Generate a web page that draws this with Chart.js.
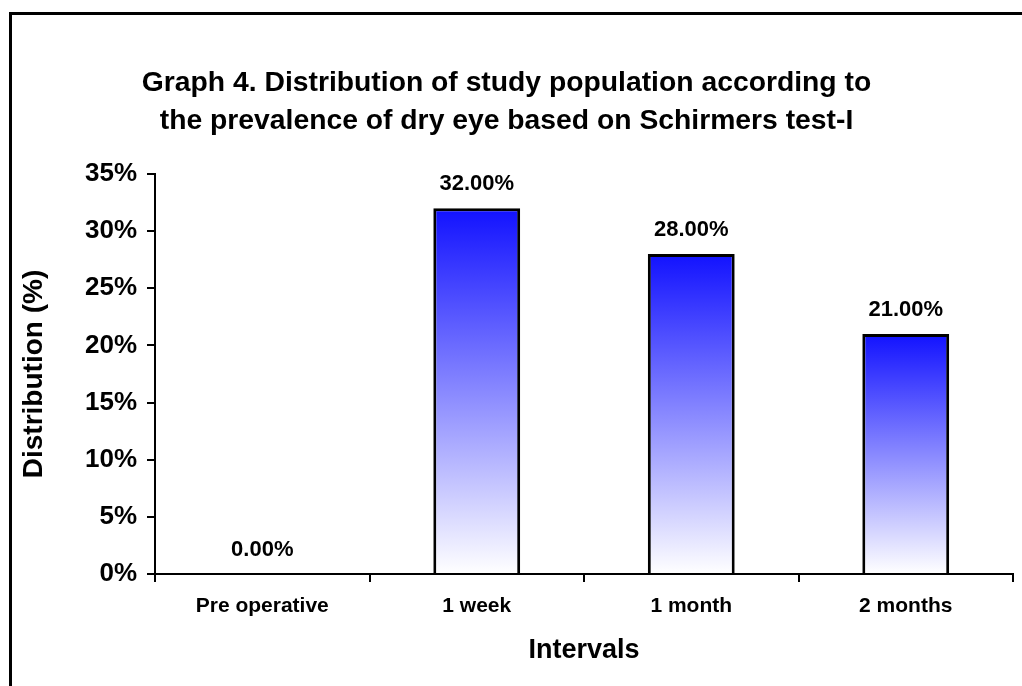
<!DOCTYPE html>
<html>
<head>
<meta charset="utf-8">
<script src="https://cdn.jsdelivr.net/npm/chart.js@4.4.1/dist/chart.umd.min.js"></script>
<style>
  html, body { margin: 0; padding: 0; background: #fff; overflow: hidden; }
  #wrap { position: relative; width: 1022px; height: 686px; }
  #frame { position: absolute; left: 9px; top: 12px; width: 2000px; height: 2000px; border: 3px solid #000; box-sizing: border-box; pointer-events: none; }
  canvas { position: absolute; left: 0; top: 0; }
</style>
</head>
<body>
<div id="wrap">
  <canvas id="c" width="1022" height="686"></canvas>
  <div id="frame"></div>
</div>
<script>
const titleLines = [
  "Graph 4. Distribution of study population according to",
  "the prevalence of dry eye based on Schirmers test-I"
];
const categories = ["Pre operative", "1 week", "1 month", "2 months"];
const distribution = [0, 32, 28, 21];
const yTicks = [0, 5, 10, 15, 20, 25, 30, 35];
const xAxisTitle = "Intervals";
const yAxisTitle = "Distribution (%)";

const FONT = "'Liberation Sans', Arial, Helvetica, sans-serif";

const barGradient = (ctx) => {
  const chart = ctx.chart;
  if (!chart.chartArea || ctx.type !== 'data' || !chart.scales.y) return '#3030ff';
  const ys = chart.scales.y;
  const top = ys.getPixelForValue(ctx.raw);
  const bottom = ys.getPixelForValue(0);
  if (bottom - top < 1) return '#ffffff';
  const g = chart.ctx.createLinearGradient(0, top, 0, bottom);
  g.addColorStop(0, 'rgb(18,18,255)');
  g.addColorStop(1, 'rgb(255,255,255)');
  return g;
};

const valueLabels = {
  id: 'valueLabels',
  afterDatasetsDraw(chart) {
    const { ctx } = chart;
    const meta = chart.getDatasetMeta(0);
    ctx.save();
    ctx.font = "bold 22px " + FONT;
    ctx.fillStyle = '#000';
    ctx.textAlign = 'center';
    ctx.textBaseline = 'middle';
    meta.data.forEach((bar, i) => {
      const v = chart.data.datasets[0].data[i];
      ctx.fillText(v.toFixed(2) + '%', bar.x, bar.y - 24);
    });
    ctx.restore();
  }
};

new Chart(document.getElementById('c'), {
  type: 'bar',
  data: {
    labels: categories,
    datasets: [{
      data: distribution,
      backgroundColor: barGradient,
      borderColor: '#000',
      borderWidth: 3,
      borderSkipped: 'start',
      categoryPercentage: 1.0,
      barPercentage: 0.405
    }]
  },
  options: {
    responsive: false,
    animation: false,
    layout: { padding: { left: 0, right: 9, top: 0, bottom: 0 } },
    plugins: {
      legend: { display: false },
      tooltip: { enabled: false },
      title: {
        display: true,
        text: titleLines,
        color: '#000',
        font: { family: FONT, size: 28.3, weight: 'bold', lineHeight: 38 / 28.3 },
        padding: { top: 64, bottom: 34 }
      }
    },
    scales: {
      x: {
        offset: true,
        grid: { display: true, drawOnChartArea: false, drawTicks: true, tickLength: 8, color: '#000', lineWidth: 2, offset: true },
        border: { display: true, color: '#000', width: 2 },
        ticks: { color: '#000', font: { family: FONT, size: 21, weight: 'bold' }, padding: 12, maxRotation: 0, autoSkip: false },
        title: { display: true, text: xAxisTitle, color: '#000', font: { family: FONT, size: 27, weight: 'bold' }, padding: { top: 0, bottom: 19 } },
        afterFit(scale) { scale.height = 112; }
      },
      y: {
        min: 0,
        max: 35,
        grid: { display: true, drawOnChartArea: false, drawTicks: true, tickLength: 8, color: '#000', lineWidth: 2 },
        border: { display: true, color: '#000', width: 2 },
        afterBuildTicks(scale) { scale.ticks = yTicks.map(v => ({ value: v })); },
        ticks: { color: '#000', font: { family: FONT, size: 26, weight: 'bold' }, padding: 10, callback: (v) => v + '%' },
        title: { display: true, text: yAxisTitle, color: '#000', font: { family: FONT, size: 28, weight: 'bold' }, padding: { top: 17, bottom: 0 } },
        afterFit(scale) { scale.width = 155; }
      }
    }
  },
  plugins: [valueLabels]
});
</script>
</body>
</html>
